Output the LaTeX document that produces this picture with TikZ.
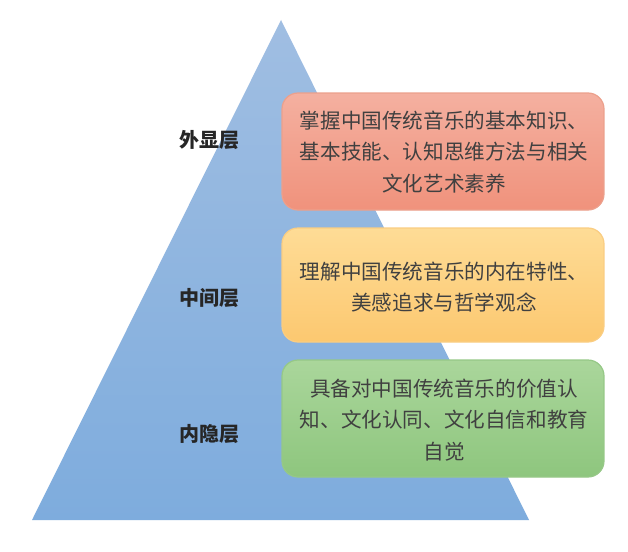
\documentclass[tikz,border=0pt]{standalone}
\usepackage{fontspec}
\newfontfamily\cjk{Noto Sans CJK SC}
\begin{document}
\begin{tikzpicture}[x=1pt,y=-1pt,
  box/.style={rounded corners=16pt, line width=1.2pt},
  boxtext/.style={align=center, text=black!75, font=\cjk\fontsize{20.6}{31.5}\selectfont},
  lvl/.style={text=black!85, font=\cjk\bfseries\fontsize{20}{22}\selectfont}]
\useasboundingbox[fill=white] (0,0) rectangle (628,551);
\coordinate (apex) at (281,20);
\coordinate (bl) at (32,520);
\coordinate (br) at (529,520);
\shade[top color={rgb,255:red,160;green,190;blue,226}, bottom color={rgb,255:red,126;green,172;blue,221}] (apex) -- (br) -- (bl) -- cycle;
% boxes
\draw[box, draw={rgb,255:red,236;green,160;blue,140}, top color={rgb,255:red,244;green,176;blue,160}, bottom color={rgb,255:red,240;green,146;blue,124}] (282,93) rectangle (604,210);
\draw[box, draw={rgb,255:red,250;green,205;blue,130}, top color={rgb,255:red,254;green,220;blue,150}, bottom color={rgb,255:red,252;green,200;blue,112}] (282,228) rectangle (604,342);
\draw[box, draw={rgb,255:red,150;green,200;blue,135}, top color={rgb,255:red,170;green,214;blue,155}, bottom color={rgb,255:red,142;green,198;blue,126}] (282,360) rectangle (604,477);
\node[boxtext] (t1) at (444,152) {掌握中国传统音乐的基本知识、\\基本技能、认知思维方法与相关\\文化艺术素养};
\node[boxtext] (t2) at (444,287) {理解中国传统音乐的内在特性、\\美感追求与哲学观念};
\node[boxtext] (t3) at (444,420) {具备对中国传统音乐的价值认\\知、文化认同、文化自信和教育\\自觉};
\node[lvl] (l1) at (209,140) {外显层};
\node[lvl] (l2) at (209,298) {中间层};
\node[lvl] (l3) at (209,434) {内隐层};
\end{tikzpicture}
\end{document}
